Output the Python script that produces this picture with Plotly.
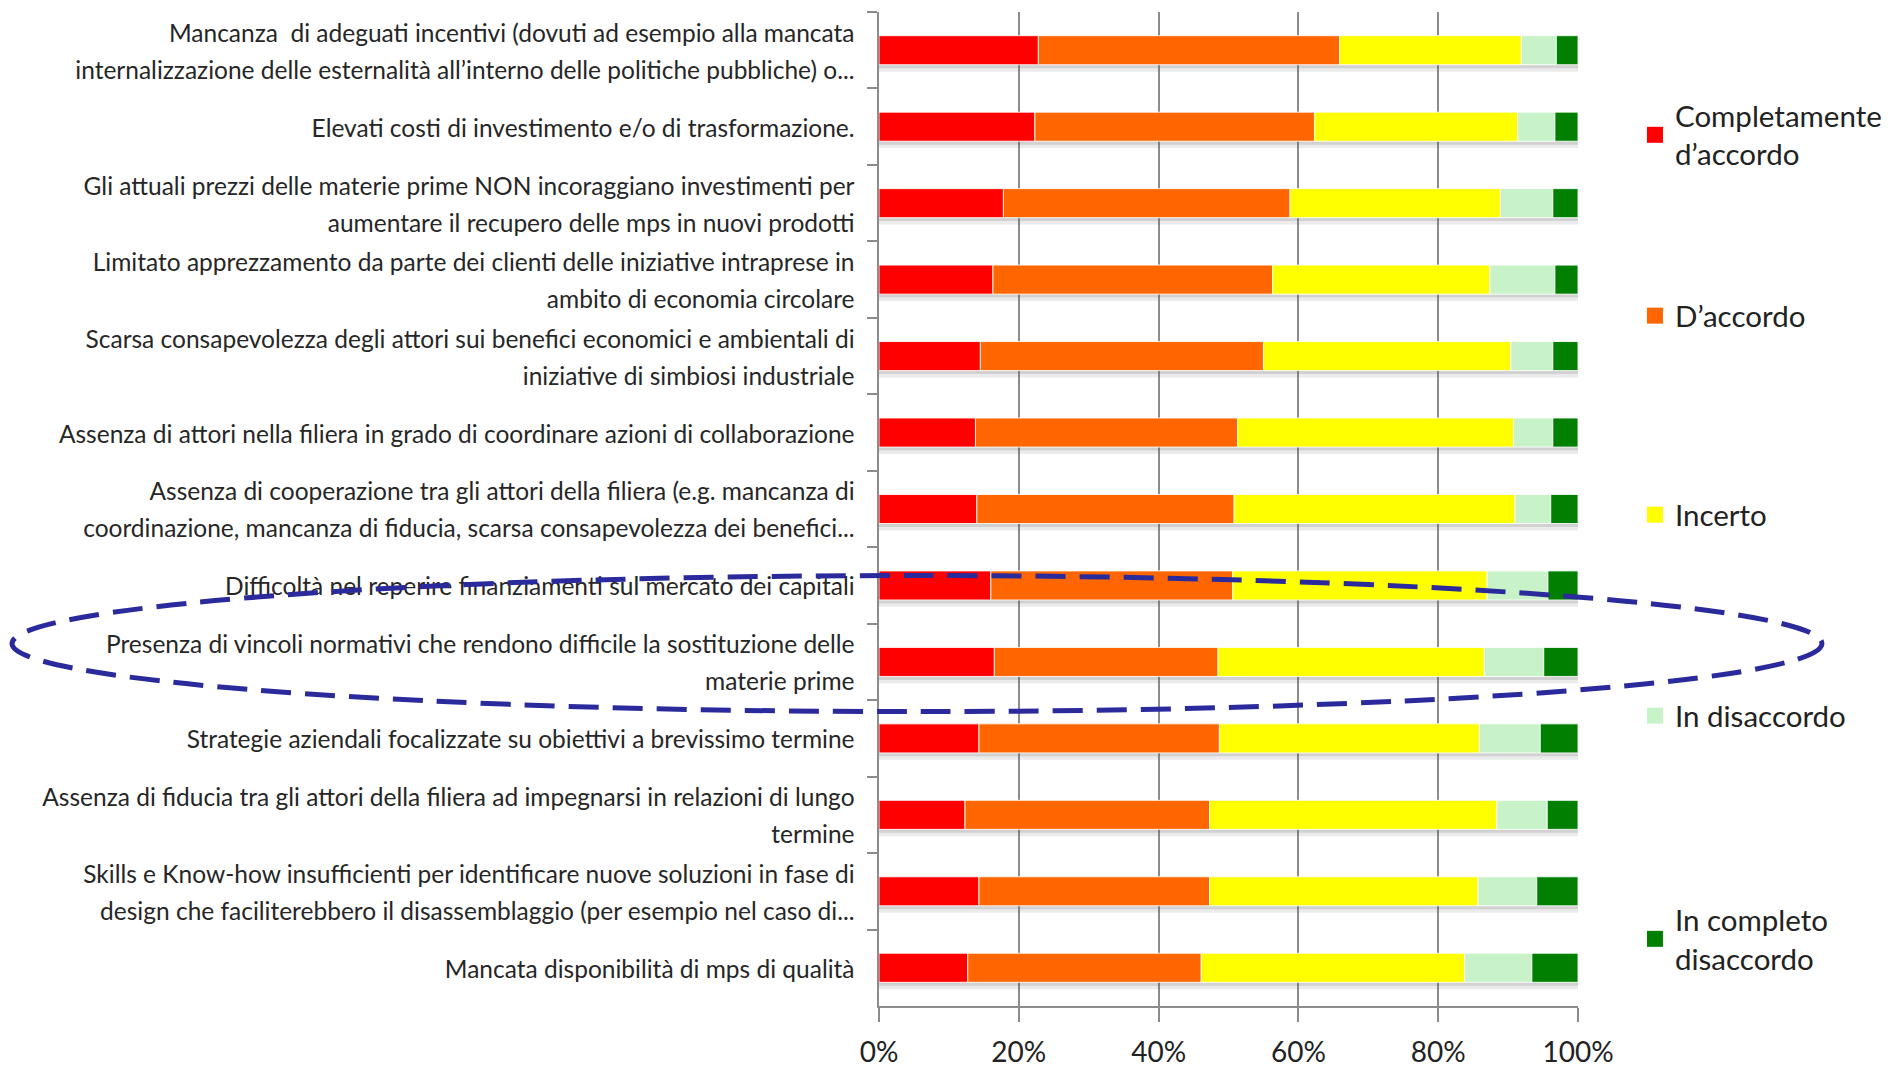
import numpy as np
import plotly.graph_objects as go

categories = [
    "Mancanza  di adeguati incentivi (dovuti ad esempio alla mancata<br>internalizzazione delle esternalità all’interno delle politiche pubbliche) o...",
    "Elevati costi di investimento e/o di trasformazione.",
    "Gli attuali prezzi delle materie prime NON incoraggiano investimenti per<br>aumentare il recupero delle mps in nuovi prodotti",
    "Limitato apprezzamento da parte dei clienti delle iniziative intraprese in<br>ambito di economia circolare",
    "Scarsa consapevolezza degli attori sui benefici economici e ambientali di<br>iniziative di simbiosi industriale",
    "Assenza di attori nella filiera in grado di coordinare azioni di collaborazione",
    "Assenza di cooperazione tra gli attori della filiera (e.g. mancanza di<br>coordinazione, mancanza di fiducia, scarsa consapevolezza dei benefici...",
    "Difficoltà nel reperire finanziamenti sul mercato dei capitali",
    "Presenza di vincoli normativi che rendono difficile la sostituzione delle<br>materie prime",
    "Strategie aziendali focalizzate su obiettivi a brevissimo termine",
    "Assenza di fiducia tra gli attori della filiera ad impegnarsi in relazioni di lungo<br>termine",
    "Skills e Know-how insufficienti per identificare nuove soluzioni in fase di<br>design che faciliterebbero il disassemblaggio (per esempio nel caso di...",
    "Mancata disponibilità di mps di qualità",
]

series_names = [
    "Completamente<br>d’accordo",
    "D’accordo",
    "Incerto",
    "In disaccordo",
    "In completo<br>disaccordo",
]

completamente_accordo = [22.8, 22.3, 17.8, 16.3, 14.5, 13.8, 14.0, 16.0, 16.5, 14.3, 12.3, 14.3, 12.7]
d_accordo = [43.1, 40.0, 41.0, 40.0, 40.5, 37.5, 36.8, 34.6, 32.0, 34.4, 35.0, 33.0, 33.4]
incerto = [26.0, 29.1, 30.1, 31.1, 35.4, 39.5, 40.2, 36.4, 38.1, 37.2, 41.1, 38.4, 37.7]
in_disaccordo = [5.0, 5.3, 7.5, 9.3, 6.0, 5.6, 5.1, 8.7, 8.5, 8.7, 7.2, 8.4, 9.6]
in_completo_disaccordo = [3.1, 3.3, 3.6, 3.3, 3.6, 3.6, 3.9, 4.3, 4.9, 5.4, 4.4, 5.9, 6.6]

x_tick_values = [0, 20, 40, 60, 80, 100]
x_tick_labels = ["0%", "20%", "40%", "60%", "80%", "100%"]

colors = ["#FF0000", "#FF6600", "#FFFF00", "#C8F2C8", "#007F00"]

series = [completamente_accordo, d_accordo, incerto, in_disaccordo, in_completo_disaccordo]
vals = np.array(series, dtype=float)
bases = np.vstack([np.zeros(vals.shape[1]), np.cumsum(vals, axis=0)[:-1]])
totals = vals.sum(axis=0)

LABEL_PX = 24.5


def wrap(label):
    return "<br>".join(
        f'<span style="font-size:{LABEL_PX}px">{part}</span>' for part in label.split("<br>")
    )


ylabels = [wrap(c) for c in categories]

fig = go.Figure()

# soft drop shadow below each bar
for off, w, alpha in [(0.19, 0.045, 0.28), (0.235, 0.045, 0.12)]:
    fig.add_trace(go.Bar(
        y=ylabels, x=totals, base=0, orientation="h",
        offset=off, width=w,
        marker=dict(color=f"rgba(90,90,90,{alpha})", line=dict(width=0)),
        showlegend=False, hoverinfo="skip",
    ))

legend_keys = ["legend", "legend2", "legend3", "legend4", "legend5"]
for i, name in enumerate(series_names):
    fig.add_trace(go.Bar(
        y=ylabels, x=vals[i], base=bases[i], orientation="h",
        offset=-0.19, width=0.38,
        name=name,
        marker=dict(color=colors[i], line=dict(color="rgba(255,255,255,0.85)", width=1)),
        showlegend=False,
    ))
    # legend entry with a larger square swatch
    fig.add_trace(go.Scatter(
        x=[None], y=[None], mode="markers", name=name,
        marker=dict(symbol="square", size=16, color=colors[i]),
        legend=legend_keys[i], showlegend=True, hoverinfo="skip",
    ))

legend_y = [0.8763, 0.6942, 0.4940, 0.2918, 0.0674]
legend_layout = {}
for i, key in enumerate(legend_keys):
    legend_layout[key] = dict(
        x=1.0815, xanchor="left", y=legend_y[i], yanchor="middle",
        xref="paper", yref="paper",
        font=dict(family="Lato", size=29.5, color="#222222"),
        bgcolor="rgba(0,0,0,0)", borderwidth=0,
    )

fig.update_layout(
    template="none",
    width=1896, height=1069,
    margin=dict(l=879, r=318, t=12, b=63, autoexpand=False),
    paper_bgcolor="white", plot_bgcolor="white",
    barmode="overlay",
    showlegend=True,
    font=dict(family="Lato", color="#222222"),
    **legend_layout,
)

fig.update_xaxes(
    range=[0, 100], tickmode="array", tickvals=x_tick_values, ticktext=x_tick_labels,
    showgrid=True, gridcolor="#8C8C8C", gridwidth=1.5,
    showline=True, linecolor="#8C8C8C", linewidth=1.5,
    ticks="outside", ticklen=14, tickcolor="#8C8C8C", tickwidth=1.5,
    tickfont=dict(family="Lato", size=28, color="#222222"),
    ticklabelstandoff=7,
    zeroline=False, automargin=False, fixedrange=True,
)

fig.update_yaxes(
    type="category", categoryorder="array", categoryarray=ylabels,
    range=[12.5, -0.5],
    showgrid=False, showline=True, linecolor="#8C8C8C", linewidth=1.5,
    ticks="outside", tickson="boundaries", ticklen=10, tickcolor="#8C8C8C", tickwidth=1.5,
    tickfont=dict(family="Lato", size=28.5, color="#262626"),
    ticklabelstandoff=17,
    zeroline=False, automargin=False, fixedrange=True,
)

# dashed ellipse highlighting the regulatory-constraint rows
fig.add_shape(
    type="circle", xref="paper", yref="y",
    x0=-1.2403, x1=1.349, y0=6.87, y1=8.65,
    line=dict(color="#2A2A9C", width=5, dash="30px,14px"),
    fillcolor="rgba(0,0,0,0)", layer="above",
)

fig.write_html("out.html", config={"displayModeBar": False})
